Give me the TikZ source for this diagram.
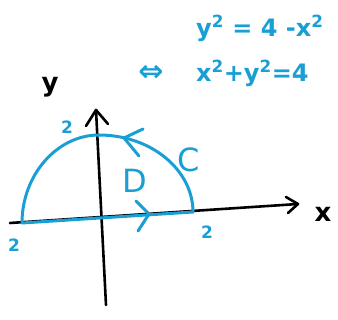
\documentclass[tikz,border=0pt]{standalone}
\usepackage{fontspec}
\setmainfont{DejaVu Sans}
\begin{document}
\begin{tikzpicture}[x=1pt,y=-1pt,
  blu/.style={draw=penblue,line width=3pt,line cap=round,line join=round},
  blk/.style={draw=black,line width=2.6pt,line cap=round,line join=round},
  bt/.style={text=penblue,font=\bfseries\fontsize{24}{24}\selectfont,inner sep=0pt},
  big/.style={text=penblue,font=\fontsize{32}{32}\selectfont,inner sep=0pt},
  kt/.style={text=black,font=\bfseries\fontsize{26}{26}\selectfont,inner sep=0pt},
  num/.style={text=penblue,font=\bfseries\fontsize{17}{17}\selectfont,inner sep=0pt}]
\definecolor{penblue}{HTML}{1A9FD4}
\useasboundingbox (0,0) rectangle (338,320);
% axes
\coordinate (xs) at (10,223);
\coordinate (xe) at (298,204);
\coordinate (ys) at (106,305);
\coordinate (ye) at (96,110);
\draw[blk] (xs) -- (xe);
\draw[blk] (286,197) -- (xe) -- (288,213);
\draw[blk] (ys) -- (ye);
\draw[blk] (86,126) -- (ye) -- (108,124);
\node[kt] (ylab) at (50,87) {y};
\node[kt] (xlab) at (323,214) {x};
% region boundary
\coordinate (L) at (22,223);
\coordinate (T) at (99,135);
\coordinate (R) at (193,212);
\draw[blu] (L) .. controls (22,175) and (57,135) .. (T)
  .. controls (151,135) and (193,170) .. (R);
\draw[blu] (L) -- (R);
% orientation arrows
\draw[blu] (143,129) -- (124,138) -- (139,156);
\draw[blu] (136,201) -- (149,214) -- (138,231);
\node[big] (D) at (135,181) {D};
\node[big] (C) at (189,160) {C};
\node[num] (n1) at (67,127) {2};
\node[num] (n2) at (14,245) {2};
\node[num] (n3) at (207,232) {2};
% equations
\node[bt,anchor=west] (eq1) at (196,28) {y\textsuperscript{2} = 4 -x\textsuperscript{2}};
\node[bt,font=\bfseries\fontsize{30}{30}\selectfont] (iff) at (151,73) {⇔};
\node[bt,anchor=west] (eq2) at (196,73) {x\textsuperscript{2}+y\textsuperscript{2}=4};
\end{tikzpicture}
\end{document}
